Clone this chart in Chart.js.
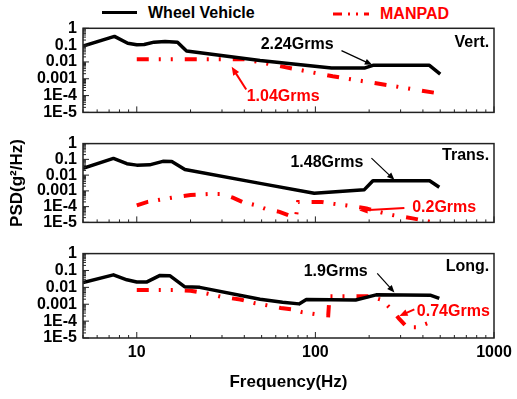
<!DOCTYPE html>
<html>
<head>
<meta charset="utf-8">
<script src="https://cdn.jsdelivr.net/npm/chart.js@4.4.0/dist/chart.umd.min.js"></script>
<style>
body{margin:0;background:#fff;}
#wrap{position:relative;width:517px;height:399px;overflow:hidden;font:bold 16px "Liberation Sans",Arial,sans-serif;}
canvas{position:absolute;left:0;}
.lg{position:absolute;line-height:20px;white-space:nowrap;}
</style>
</head>
<body>
<div id="wrap">
  <svg style="position:absolute;left:0;top:0" width="517" height="26">
    <line x1="102" y1="12.5" x2="137" y2="12.5" stroke="#000" stroke-width="3"/>
    <line x1="333" y1="14" x2="369" y2="14" stroke="#f00" stroke-width="3" stroke-dasharray="9 6 2 6 2 6"/>
  </svg>
  <div class="lg" style="left:148px;top:3px">Wheel Vehicle</div>
  <div class="lg" style="left:380px;top:4px;color:#f00">MANPAD</div>
  <canvas id="c1" width="517" height="128" style="top:0"></canvas>
  <canvas id="c2" width="517" height="110" style="top:128px"></canvas>
  <canvas id="c3" width="517" height="161" style="top:238px"></canvas>
</div>
<script>
// tick labels
var yTickLabels = ['1E-5', '1E-4', '0.001', '0.01', '0.1', '1'];
var xTickLabels = ['10', '100', '1000'];

// Vert.
var freqWheelVert = [5, 7.5, 8.9, 10, 11, 12.5, 14.4, 16.9, 19, 49, 123, 188, 210, 435, 500];
var psdWheelVert  = [0.088, 0.33, 0.13, 0.105, 0.11, 0.15, 0.165, 0.15, 0.045, 0.012, 0.0043, 0.0043, 0.0063, 0.0063, 0.0019];
var freqManpadVert = [10, 40, 125, 500];
var psdManpadVert  = [0.0145, 0.0145, 0.0014, 0.00013];

// Trans.
var freqWheelTrans = [5, 7.4, 8.8, 10, 11.8, 14, 15.7, 18.6, 49, 98.5, 188, 210, 436, 494];
var psdWheelTrans  = [0.027, 0.115, 0.053, 0.043, 0.045, 0.075, 0.073, 0.023, 0.003, 0.0007, 0.0012, 0.0044, 0.0044, 0.0017];
var freqManpadTrans = [10, 11.5, 15.7, 20, 25, 30, 34.5, 39, 45.6, 53, 63, 73, 78, 80, 108, 127, 150, 190, 236, 276, 350, 438];
var psdManpadTrans  = [1.2e-4, 2e-4, 3.7e-4, 5.5e-4, 6.3e-4, 6.3e-4, 3.7e-4, 2e-4, 1.3e-4, 7e-5, 4.7e-5, 2.5e-5, 2.5e-5, 2e-4, 2e-4, 1.5e-4, 1.2e-4, 8e-5, 4.2e-5, 2.8e-5, 1.8e-5, 1.1e-5];

// Long.
var freqWheelLong = [5, 7.4, 8.8, 10, 11.4, 13.5, 15.3, 18.5, 22.5, 49, 65.5, 81, 89, 168, 219, 443, 494];
var psdWheelLong  = [0.019, 0.055, 0.028, 0.021, 0.021, 0.051, 0.049, 0.011, 0.01, 0.002, 0.0013, 0.00105, 0.0019, 0.0018, 0.0036, 0.0034, 0.0022];
var freqManpadLong = [10, 16, 20, 25, 30, 38, 46, 54, 64, 74, 84, 102, 118, 120, 150, 200, 236, 266, 294, 326, 370, 437];
var psdManpadLong  = [0.007, 0.007, 0.0063, 0.0042, 0.0027, 0.0019, 0.00115, 8.5e-4, 6e-4, 5e-4, 3.4e-4, 2.5e-4, 2.2e-4, 0.003, 0.003, 0.003, 0.0018, 5e-4, 1.4e-4, 4.3e-5, 4.3e-5, 8.3e-5];

var RED = '#ff0000';
var FONT = '"Liberation Sans", Arial, sans-serif';

function toPoints(xs, ys) {
    var pts = [];
    for (var i = 0; i < xs.length; i++) pts.push({x: xs[i], y: ys[i]});
    return pts;
}

function isDecade(v) {
    var e = Math.log10(v);
    return Math.abs(e - Math.round(e)) < 1e-6;
}

// box round the plot + short ticks pointing inward
var framePlugin = {
    id: 'frame',
    afterDatasetsDraw: function(chart) {
        var ctx = chart.ctx, a = chart.chartArea, x = chart.scales.x, y = chart.scales.y;
        ctx.save();
        ctx.strokeStyle = '#222';
        ctx.lineWidth = 1;
        ctx.beginPath();
        for (var e = 0; e <= 3; e++) {
            for (var m = 1; m <= 9; m++) {
                var v = m * Math.pow(10, e);
                if (v < x.min || v > x.max) continue;
                var px = x.getPixelForValue(v);
                ctx.moveTo(px, a.bottom);
                ctx.lineTo(px, a.bottom - (m === 1 ? 6 : 3));
            }
        }
        for (var e2 = -5; e2 <= 0; e2++) {
            for (var m2 = 1; m2 <= 9; m2++) {
                var v2 = m2 * Math.pow(10, e2);
                if (v2 < y.min * 0.999 || v2 > y.max * 1.001) continue;
                var py = y.getPixelForValue(v2);
                ctx.moveTo(a.left, py);
                ctx.lineTo(a.left + (m2 === 1 ? 6 : 3), py);
            }
        }
        ctx.stroke();
        ctx.lineWidth = 1.5;
        ctx.strokeRect(a.left, a.top, a.right - a.left, a.bottom - a.top);
        ctx.restore();
    }
};

// Grms notes, panel names and arrows
var notesPlugin = {
    id: 'notes',
    afterDatasetsDraw: function(chart, args, opts) {
        var ctx = chart.ctx, x = chart.scales.x, y = chart.scales.y;
        ctx.save();
        (opts.arrows || []).forEach(function(a) {
            var x1 = x.getPixelForValue(a.from[0]), y1 = y.getPixelForValue(a.from[1]);
            var x2 = x.getPixelForValue(a.to[0]), y2 = y.getPixelForValue(a.to[1]);
            var ang = Math.atan2(y2 - y1, x2 - x1), L = a.head;
            ctx.strokeStyle = a.color;
            ctx.fillStyle = a.color;
            ctx.lineWidth = a.width;
            ctx.beginPath();
            ctx.moveTo(x1, y1);
            ctx.lineTo(x2 - Math.cos(ang) * L * 0.6, y2 - Math.sin(ang) * L * 0.6);
            ctx.stroke();
            ctx.beginPath();
            ctx.moveTo(x2, y2);
            ctx.lineTo(x2 - L * Math.cos(ang - 0.4), y2 - L * Math.sin(ang - 0.4));
            ctx.lineTo(x2 - L * Math.cos(ang + 0.4), y2 - L * Math.sin(ang + 0.4));
            ctx.closePath();
            ctx.fill();
        });
        ctx.font = 'bold 16px ' + FONT;
        ctx.textBaseline = 'middle';
        (opts.labels || []).forEach(function(t) {
            ctx.fillStyle = t.color || '#000';
            ctx.textAlign = t.align || 'center';
            ctx.fillText(t.text, x.getPixelForValue(t.at[0]), y.getPixelForValue(t.at[1]));
        });
        ctx.restore();
    }
};

function makePanel(id, wheel, manpad, cfg) {
    return new Chart(document.getElementById(id), {
        type: 'line',
        data: {
            datasets: [{
                label: 'Wheel Vehicle',
                data: toPoints(wheel[0], wheel[1]),
                borderColor: '#000',
                borderWidth: 3.5,
                pointRadius: 0,
                borderJoinStyle: 'round',
                tension: 0
            }, {
                label: 'MANPAD',
                data: toPoints(manpad[0], manpad[1]),
                borderColor: RED,
                borderWidth: 4,
                borderDash: [12, 10, 2, 10, 2, 12],
                borderCapStyle: 'butt',
                pointRadius: 0,
                tension: 0
            }]
        },
        options: {
            responsive: false,
            animation: false,
            events: [],
            layout: {padding: cfg.pad},
            plugins: {
                legend: {display: false},
                tooltip: {enabled: false},
                notes: cfg.notes
            },
            scales: {
                x: {
                    type: 'logarithmic',
                    min: 5, max: 1000,
                    display: cfg.showX,
                    grid: {display: false, drawTicks: false},
                    border: {display: false},
                    ticks: {
                        autoSkip: false, maxRotation: 0, padding: 5,
                        color: '#000', font: {family: FONT, size: 16, weight: 'bold'},
                        callback: function(v) {
                            var s = String(Math.round(v));
                            return (isDecade(v) && xTickLabels.indexOf(s) >= 0) ? s : '';
                        }
                    },
                    title: {
                        display: cfg.showX, text: 'Frequency(Hz)', color: '#000',
                        font: {family: FONT, size: 17, weight: 'bold'},
                        padding: {top: 4, bottom: 6}
                    },
                    afterFit: function(s) { if (cfg.showX) s.height = 61; }
                },
                y: {
                    type: 'logarithmic',
                    min: 1e-5, max: 1,
                    grid: {display: false, drawTicks: false},
                    border: {display: false},
                    ticks: {
                        autoSkip: false, padding: 6,
                        color: '#000', font: {family: FONT, size: 16, weight: 'bold'},
                        callback: function(v) {
                            if (!isDecade(v)) return '';
                            return yTickLabels[Math.round(Math.log10(v)) + 5];
                        }
                    },
                    title: {
                        display: !!cfg.yTitle, text: 'PSD(g\u00b2/Hz)', color: '#000',
                        font: {family: FONT, size: 17, weight: 'bold'},
                        padding: {top: 7, bottom: 0}
                    },
                    afterFit: function(s) { s.width = 83; }
                }
            }
        },
        plugins: [framePlugin, notesPlugin]
    });
}

makePanel('c1', [freqWheelVert, psdWheelVert], [freqManpadVert, psdManpadVert], {
    pad: {top: 28.3, bottom: 10.7, left: 0, right: 23},
    showX: false,
    notes: {
        labels: [
            {text: '2.24Grms', at: [79, 0.115]},
            {text: 'Vert.', at: [940, 0.15], align: 'right'},
            {text: '1.04Grms', at: [66, 9.3e-5], color: RED}
        ],
        arrows: [
            {from: [140, 0.047], to: [208, 0.0067], color: '#000', width: 1.2, head: 8},
            {from: [41, 2.3e-4], to: [34, 0.0051], color: RED, width: 2, head: 9}
        ]
    }
});

makePanel('c2', [freqWheelTrans, psdWheelTrans], [freqManpadTrans, psdManpadTrans], {
    pad: {top: 11, bottom: 10.5, left: 0, right: 23},
    showX: false,
    yTitle: true,
    notes: {
        labels: [
            {text: '1.48Grms', at: [116, 0.062]},
            {text: 'Trans.', at: [940, 0.18], align: 'right'},
            {text: '0.2Grms', at: [526, 8.3e-5], color: RED}
        ],
        arrows: [
            {from: [206, 0.12], to: [277, 0.005], color: '#000', width: 1.2, head: 8},
            {from: [315, 8.3e-5], to: [176, 5.6e-5], color: RED, width: 2, head: 9}
        ]
    }
});

makePanel('c3', [freqWheelLong, psdWheelLong], [freqManpadLong, psdManpadLong], {
    pad: {top: 11.3, bottom: 0, left: 0, right: 23},
    showX: true,
    notes: {
        labels: [
            {text: '1.9Grms', at: [130, 0.087]},
            {text: 'Long.', at: [940, 0.165], align: 'right'},
            {text: '0.74Grms', at: [592, 3.8e-4], color: RED}
        ],
        arrows: [
            {from: [222, 0.067], to: [277, 0.005], color: '#000', width: 1.2, head: 8},
            {from: [358, 5e-4], to: [295, 2e-4], color: RED, width: 2, head: 9}
        ]
    }
});
</script>
</body>
</html>
